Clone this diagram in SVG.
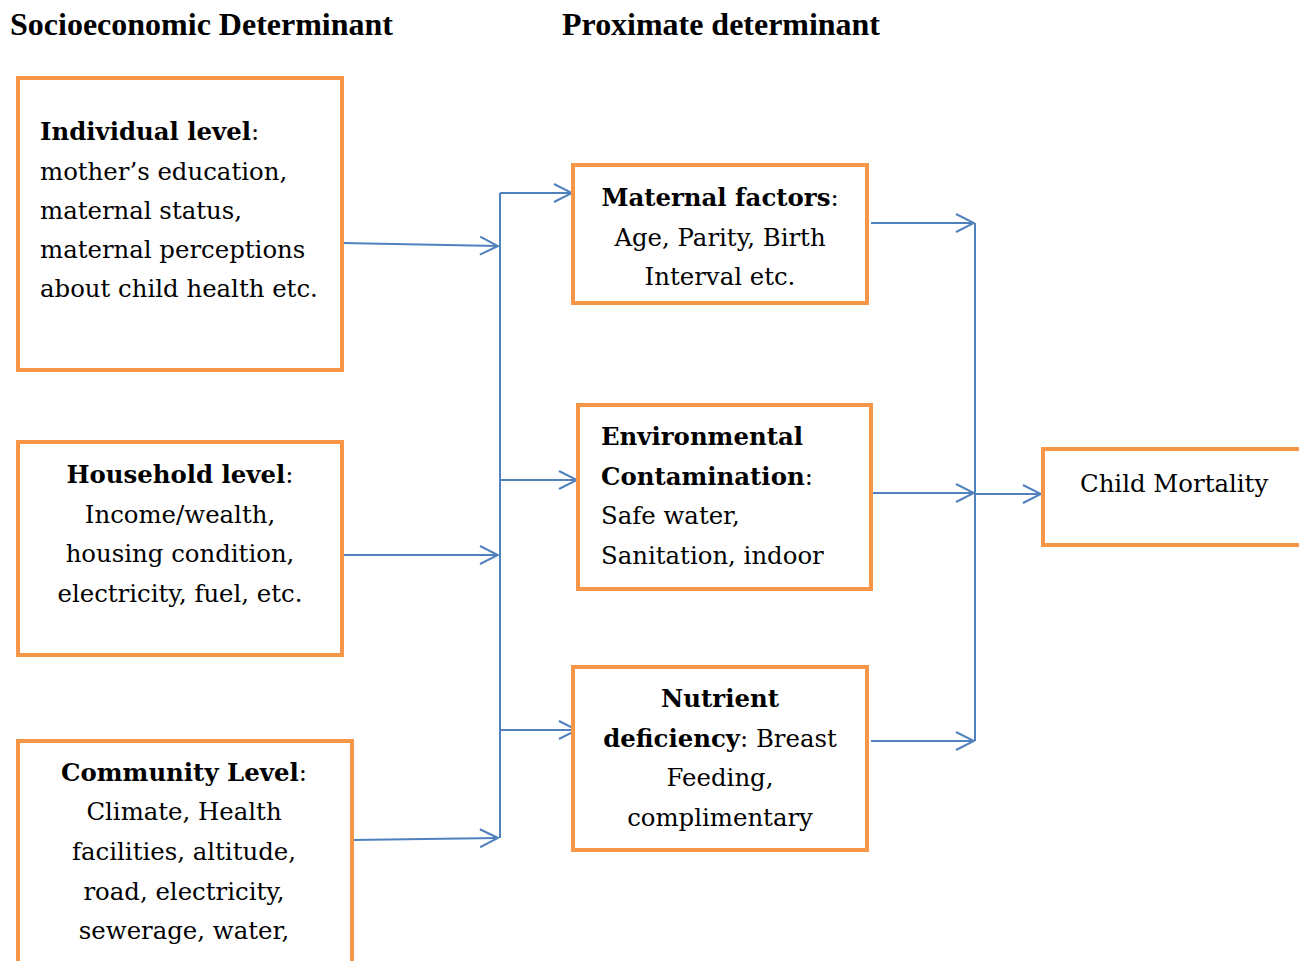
<svg xmlns="http://www.w3.org/2000/svg" width="1299" height="961" viewBox="0 0 1299 961">
<style>
.box{fill:#fff;stroke:#F79646;stroke-width:4}
.h{font-family:"Liberation Serif",serif;font-weight:bold;font-size:32px;fill:#000}
.t{font-family:"DejaVu Serif",serif;font-size:24.4px;fill:#000}
.b{font-weight:bold}
.c{text-anchor:middle}
.ln{fill:none;stroke:#4F81BD;stroke-width:2}
</style>
<defs>
<marker id="ar" viewBox="0 0 20 20" refX="19" refY="10" markerWidth="20" markerHeight="20" markerUnits="userSpaceOnUse" orient="auto">
<path d="M1,1 L19,10 L1,19" fill="none" stroke="#4F81BD" stroke-width="2"/>
</marker>
</defs>
<rect width="1299" height="961" fill="#fff"/>
<text class="h" x="10" y="35" textLength="383" lengthAdjust="spacingAndGlyphs">Socioeconomic Determinant</text>
<text class="h" x="562" y="35" textLength="318" lengthAdjust="spacingAndGlyphs">Proximate determinant</text>

<g id="connectors">
<line class="ln" x1="500" y1="193" x2="500" y2="838"/>
<line class="ln" x1="342" y1="243" x2="498" y2="246" marker-end="url(#ar)"/>
<line class="ln" x1="342" y1="555" x2="498" y2="555" marker-end="url(#ar)"/>
<line class="ln" x1="352" y1="840" x2="498" y2="838" marker-end="url(#ar)"/>
<line class="ln" x1="500" y1="193" x2="572" y2="193" marker-end="url(#ar)"/>
<line class="ln" x1="500" y1="480" x2="577" y2="480" marker-end="url(#ar)"/>
<line class="ln" x1="500" y1="730" x2="577" y2="730" marker-end="url(#ar)"/>
<line class="ln" x1="975" y1="223" x2="975" y2="741"/>
<line class="ln" x1="871" y1="223" x2="974" y2="223" marker-end="url(#ar)"/>
<line class="ln" x1="871" y1="493" x2="974" y2="493" marker-end="url(#ar)"/>
<line class="ln" x1="871" y1="741" x2="974" y2="741" marker-end="url(#ar)"/>
<line class="ln" x1="975" y1="494" x2="1041" y2="494" marker-end="url(#ar)"/>
</g>

<g id="individual">
<rect class="box" x="18" y="78" width="324" height="292"/>
<text class="t" x="40" y="140"><tspan class="b">Individual level</tspan>:</text>
<text class="t" x="40" y="180">mother’s education,</text>
<text class="t" x="40" y="219">maternal status,</text>
<text class="t" x="40" y="258">maternal perceptions</text>
<text class="t" x="40" y="297">about child health etc.</text>
</g>

<g id="household">
<rect class="box" x="18" y="442" width="324" height="213"/>
<text class="t c" x="180" y="483"><tspan class="b">Household level</tspan>:</text>
<text class="t c" x="180" y="523">Income/wealth,</text>
<text class="t c" x="180" y="562">housing condition,</text>
<text class="t c" x="180" y="602">electricity, fuel, etc.</text>
</g>

<g id="community">
<rect class="box" x="18" y="741" width="334" height="230"/>
<text class="t c" x="184" y="781"><tspan class="b">Community Level</tspan>:</text>
<text class="t c" x="184" y="820">Climate, Health</text>
<text class="t c" x="184" y="860">facilities, altitude,</text>
<text class="t c" x="184" y="900">road, electricity,</text>
<text class="t c" x="184" y="939">sewerage, water,</text>
</g>

<g id="maternal">
<rect class="box" x="573" y="165" width="294" height="138"/>
<text class="t c" x="720" y="206"><tspan class="b">Maternal factors</tspan>:</text>
<text class="t c" x="720" y="246">Age, Parity, Birth</text>
<text class="t c" x="720" y="285">Interval etc.</text>
</g>

<g id="environmental">
<rect class="box" x="578" y="405" width="293" height="184"/>
<text class="t b" x="601" y="445">Environmental</text>
<text class="t" x="601" y="485"><tspan class="b">Contamination</tspan>:</text>
<text class="t" x="601" y="524">Safe water,</text>
<text class="t" x="601" y="564">Sanitation, indoor</text>
</g>

<g id="nutrient">
<rect class="box" x="573" y="667" width="294" height="183"/>
<text class="t c b" x="720" y="707">Nutrient</text>
<text class="t c" x="720" y="747"><tspan class="b">deficiency</tspan>: Breast</text>
<text class="t c" x="720" y="786">Feeding,</text>
<text class="t c" x="720" y="826">complimentary</text>
</g>

<g id="mortality">
<rect class="box" x="1043" y="449" width="270" height="96"/>
<text class="t" x="1080" y="492">Child Mortality</text>
</g>
</svg>
